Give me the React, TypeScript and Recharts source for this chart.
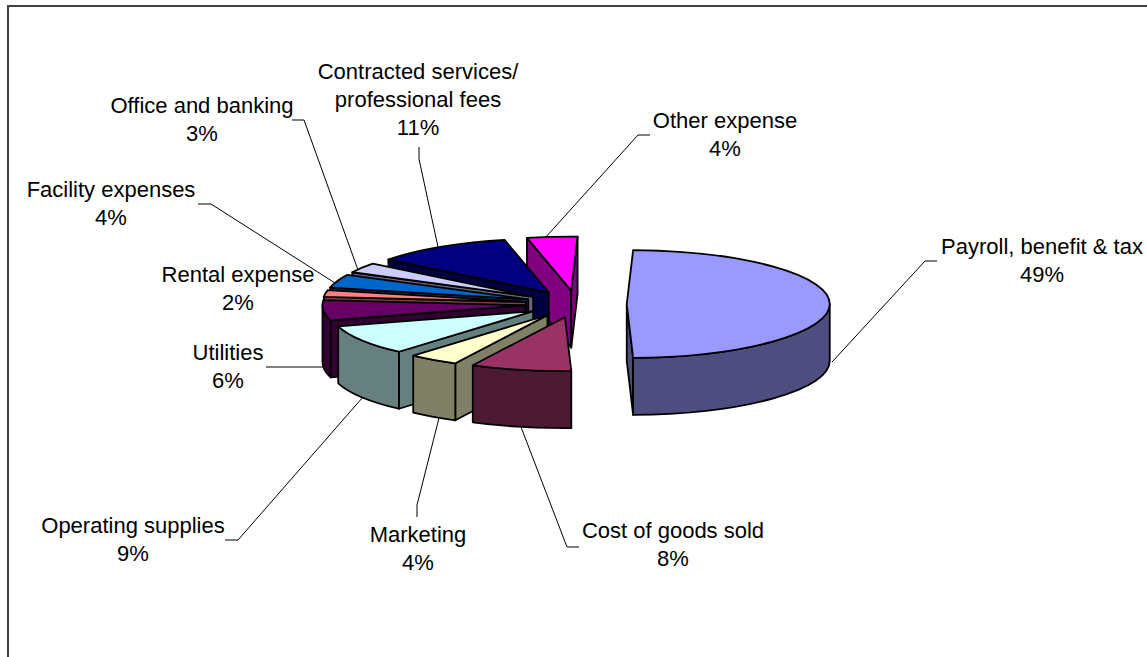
import React from 'react';
import { PieChart, Pie } from 'recharts';

// Expense split, in the order the slices run clockwise from twelve o'clock
const CATEGORIES = [
  'Payroll, benefit & tax',
  'Cost of goods sold',
  'Marketing',
  'Operating supplies',
  'Utilities',
  'Rental expense',
  'Facility expenses',
  'Office and banking',
  'Contracted services/ professional fees',
  'Other expense',
];
const SHARES = [49, 8, 4, 9, 6, 2, 4, 3, 11, 4];
const COLORS = ['#9999ff', '#993366', '#ffffcc', '#ccffff', '#660066', '#ff8080', '#0066cc', '#ccccff', '#000080', '#ff00ff'];

// Text block and leader line for each label
const LABEL_LINES = [
  ['Payroll, benefit & tax'],
  ['Cost of goods sold'],
  ['Marketing'],
  ['Operating supplies'],
  ['Utilities'],
  ['Rental expense'],
  ['Facility expenses'],
  ['Office and banking'],
  ['Contracted services/', 'professional fees'],
  ['Other expense'],
];
const LABEL_ANCHORS = [
  [1042, 254], [673, 538], [418, 542], [133, 533], [228, 360],
  [238, 282], [111, 197], [202, 113], [418, 79], [725, 128],
];
const LEADERS = [
  [[832, 362], [925, 261], [937, 261]],
  [[521, 427], [567, 547], [579, 547]],
  [[439, 418], [417, 505], [417, 517]],
  [[363, 397], [238, 540], [225, 540]],
  [[325, 367], [266, 367]],
  [],
  [[335, 283], [211, 204], [198, 204]],
  [[358, 270], [304, 120], [292, 120]],
  [[438, 247], [419, 159], [419, 147]],
  [[545, 238], [638, 135], [650, 135]],
];

const TILT = 54 / 203; // vertical squash of the pie's top face
const DEPTH = 57;
const EXPLODE = 0.25;

// Back slices come first so the ones in front paint over them
const tableData = CATEGORIES.map((name, i) => ({
  name,
  value: SHARES[i],
  fill: COLORS[i],
  order: i,
})).reverse();

const darken = (hex: string) => {
  const n = parseInt(hex.slice(1), 16);
  const half = (v: number) => Math.round(v / 2).toString(16).padStart(2, '0');
  return `#${half(n >> 16)}${half((n >> 8) & 255)}${half(n & 255)}`;
};

const Slice3D = (props: any) => {
  const { cx, cy, outerRadius: rx, startAngle, endAngle, fill } = props;
  const ry = rx * TILT;
  // clock angles, measured clockwise from the top
  const from = (((90 - endAngle) % 360) + 360) % 360;
  const to = from + (endAngle - startAngle);
  const mid = (from + to) / 2;
  const rad = (d: number) => (d * Math.PI) / 180;
  const tipX = cx + EXPLODE * rx * Math.sin(rad(mid));
  const tipY = cy - EXPLODE * ry * Math.cos(rad(mid));
  const px = (d: number) => tipX + rx * Math.sin(rad(d));
  const py = (d: number) => tipY - ry * Math.cos(rad(d));
  const wall = darken(fill);
  const edge = { stroke: '#000', strokeWidth: 1.8, strokeLinejoin: 'round' as const };

  const radialWall = (d: number) =>
    `M${tipX},${tipY} L${px(d)},${py(d)} L${px(d)},${py(d) + DEPTH} L${tipX},${tipY + DEPTH} Z`;

  const rimFrom = Math.max(from, 90);
  const rimTo = Math.min(to, 270);

  return (
    <g>
      {Math.sin(rad(from)) < 0 && <path d={radialWall(from)} fill={wall} {...edge} />}
      {Math.sin(rad(to)) > 0 && <path d={radialWall(to)} fill={wall} {...edge} />}
      {rimTo > rimFrom && (
        <path
          d={`M${px(rimFrom)},${py(rimFrom)} A${rx},${ry} 0 0 1 ${px(rimTo)},${py(rimTo)} L${px(rimTo)},${py(rimTo) + DEPTH} A${rx},${ry} 0 0 0 ${px(rimFrom)},${py(rimFrom) + DEPTH} Z`}
          fill={wall}
          {...edge}
        />
      )}
      <path
        d={`M${tipX},${tipY} L${px(from)},${py(from)} A${rx},${ry} 0 0 1 ${px(to)},${py(to)} Z`}
        fill={fill}
        {...edge}
      />
    </g>
  );
};

const SliceLabel = (props: any) => {
  const { order, value } = props.payload ?? props;
  const lines = [...LABEL_LINES[order], `${value}%`];
  const [x, y] = LABEL_ANCHORS[order];
  const leader = LEADERS[order];
  return (
    <g>
      {leader.length > 0 && (
        <polyline
          points={leader.map((p) => p.join(',')).join(' ')}
          fill="none"
          stroke="#000"
          strokeWidth={1}
        />
      )}
      <text x={x} y={y} textAnchor="middle" fontFamily="Liberation Sans" fontSize={22} fill="#000">
        {lines.map((line, n) => (
          <tspan key={n} x={x} dy={n === 0 ? 0 : 28}>
            {line}
          </tspan>
        ))}
      </text>
    </g>
  );
};

export default function App() {
  return (
    <div style={{ position: 'absolute', left: 0, top: 0, width: 1147, height: 657, overflow: 'hidden', background: '#fff' }}>
      <div
        style={{
          position: 'absolute',
          left: 7,
          top: 5,
          width: 1200,
          height: 700,
          border: '2px solid #404040',
        }}
      />
      <PieChart width={1147} height={657} margin={{ top: 0, right: 0, bottom: 0, left: 0 }} style={{ position: 'absolute' }}>
        <Pie
          data={tableData}
          dataKey="value"
          nameKey="name"
          cx={576}
          cy={304}
          innerRadius={0}
          outerRadius={203}
          startAngle={88.2}
          endAngle={448.2}
          shape={Slice3D}
          label={SliceLabel}
          labelLine={false}
          isAnimationActive={false}
        />
      </PieChart>
    </div>
  );
}
